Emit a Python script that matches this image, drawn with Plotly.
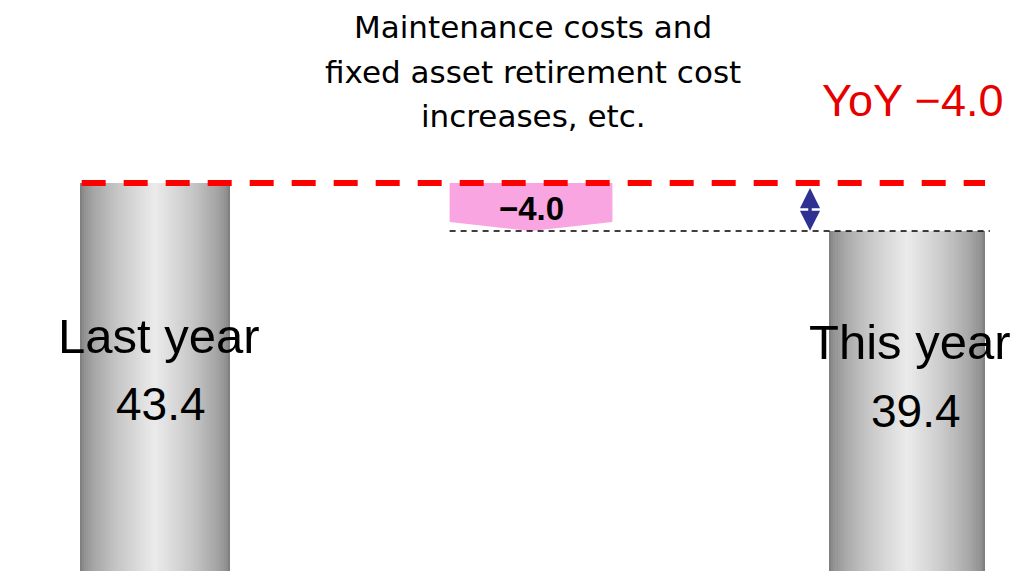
import plotly.graph_objects as go

# ---- data ----
categories = ["Last year", "This year"]
values = [43.4, 39.4]
change_value = -4.0
change_label = "−4.0"
title_lines = ["Maintenance costs and", "fixed asset retirement cost", "increases, etc."]
yoy_label = "YoY −4.0"

W, H = 1035, 571
x_range = [-155 / 376, (W - 155) / 376]
y_range = [11.07, 58.65]

def xp(px):
    return px / W

def yp(py):
    return 1 - py / H

fig = go.Figure()

# gradient bars: overlaid bars of decreasing width
bar_x = [0, 2]
bar_w = [0.400, 0.415]
dark = (128, 128, 128)
light = (234, 234, 234)
n_layers = 36
for i in range(n_layers):
    t = i / (n_layers - 1)
    f = 1 - 0.97 * t
    c = tuple(int(dark[k] + (light[k] - dark[k]) * (t ** 0.6)) for k in range(3))
    fig.add_trace(go.Bar(
        x=bar_x, y=values, width=[w * f for w in bar_w],
        marker=dict(color=f"rgb{c}", line=dict(width=0)),
        hoverinfo="skip", showlegend=False,
    ))

# change block (pink pentagon pointing down)
start = values[0]
end = start + change_value
hw = 0.2165
notch = 0.75
px_ = [1 - hw, 1 + hw, 1 + hw, 1, 1 - hw, 1 - hw]
py_ = [start, start, end + notch, end, end + notch, start]
fig.add_trace(go.Scatter(x=px_, y=py_, fill="toself", fillcolor="#F9A5E1",
                         line=dict(width=0, color="#F9A5E1"), mode="lines",
                         hoverinfo="skip", showlegend=False))

# red dashed line at last year level
fig.add_trace(go.Scatter(x=[bar_x[0] - bar_w[0] / 2 + 0.005, bar_x[1] + bar_w[1] / 2], y=[start, start],
                         mode="lines", line=dict(color="#FF0000", width=6, dash="24px,18px"),
                         hoverinfo="skip", showlegend=False))
# black dashed line at this year level
fig.add_trace(go.Scatter(x=[1 - hw, bar_x[1] + bar_w[1] / 2 + 0.013], y=[end, end],
                         mode="lines", line=dict(color="#000000", width=1.5, dash="6px,5px"),
                         hoverinfo="skip", showlegend=False))

ann = []
# blue double arrow
ann.append(dict(x=1.742, y=end + 0.02, ax=1.742, ay=start - 0.3, xref="x", yref="y",
                axref="x", ayref="y", text="", showarrow=True, arrowhead=2,
                startarrowhead=2, arrowside="end+start", arrowwidth=3.5,
                arrowsize=1.15, startarrowsize=1.15, arrowcolor="#2E3192"))

def txt(x, y, text, size, color="#000000", family="Liberation Sans"):
    return dict(x=xp(x), y=yp(y), xref="paper", yref="paper", text=text,
                showarrow=False, xanchor="center", yanchor="middle",
                font=dict(family=family, size=size, color=color))

# title lines
for i, line in enumerate(title_lines):
    ann.append(txt(533, 27 + 44.5 * i, line, 31, family="DejaVu Sans"))

# YoY label
ann.append(txt(912, 100, yoy_label, 45, color="#E60000"))

# change label
ann.append(txt(531, 208, f"<b>{change_label}</b>", 33))

# category labels + values
label_pos = [(159, 336), (910, 342)]
value_pos = [(161, 404), (916, 411)]
for cat, v, (lx, ly), (vx, vy) in zip(categories, values, label_pos, value_pos):
    ann.append(txt(lx, ly, cat, 49))
    ann.append(txt(vx, vy, f"{v:.1f}", 46))

fig.update_layout(
    width=W, height=H, margin=dict(l=0, r=0, t=0, b=0),
    paper_bgcolor="white", plot_bgcolor="white",
    barmode="overlay", bargap=0, showlegend=False,
    xaxis=dict(range=x_range, visible=False, fixedrange=True),
    yaxis=dict(range=y_range, visible=False, fixedrange=True),
    annotations=ann,
)

fig.write_html("out.html")
